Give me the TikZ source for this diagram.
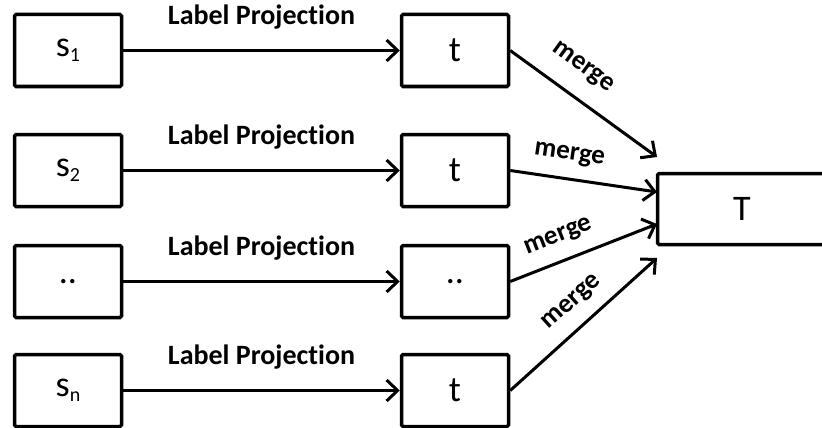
\documentclass[tikz,border=0pt]{standalone}
\usepackage{fontspec}
\setmainfont{Carlito}[Ligatures={NoCommon}]
\usetikzlibrary{arrows.meta}

% subscript for the source labels
\newcommand{\subidx}[1]{\raisebox{-0.14em}{\fontsize{20}{20}\selectfont #1}}

\begin{document}
\begin{tikzpicture}[x=1pt,y=-1pt,
  box/.style={draw, line width=3.5pt, rounded corners=1.5pt,
    minimum width=107pt, minimum height=72pt, inner sep=0pt,
    font=\fontsize{36}{36}\selectfont},
  flow/.style={line width=3pt,
    -{Straight Barb[length=11pt,width=21pt]}},
  projlabel/.style={midway, anchor=base, yshift=26pt, inner sep=0pt,
    font=\fontsize{28}{28}\selectfont\bfseries},
  mergelabel/.style={sloped, above=#1, inner sep=0pt,
    font=\fontsize{27}{27}\selectfont\bfseries},
  mergelabel/.default=13pt]
\useasboundingbox (0,0) rectangle (822,428);
\clip (0,0) rectangle (822,428);

% source boxes
\node[box] (s1) at (68,50.5)  {s\subidx{1}};
\node[box] (s2) at (68,170.5) {s\subidx{2}};
\node[box] (s3) at (68,281.5) {..};
\node[box] (s4) at (68,390.5) {s\subidx{n}};

% projected boxes
\node[box] (t1) at (455,50.5)  {t};
\node[box] (t2) at (455,170.5) {t};
\node[box] (t3) at (455,281.5) {..};
\node[box] (t4) at (455,390.5) {t};

% merged result
\node[box, minimum width=169pt, minimum height=71pt] (T) at (742,209) {T};

% arrow ends beside T
\coordinate (e1) at (657,157);
\coordinate (e2) at (657,192);
\coordinate (e3) at (657,224);
\coordinate (e4) at (657,258);

% label projection arrows
\foreach \i in {1,...,4}
  \draw[flow] (s\i) -- node[projlabel] {Label Projection} (t\i);

% merge arrows
\draw[flow] (t1.east) -- node[mergelabel=18pt, pos=0.38] {merge} (e1);
\draw[flow] (t2.east) -- node[mergelabel, pos=0.38] {merge} (e2);
\draw[flow] (t3.east) -- node[mergelabel, pos=0.39] {merge} (e3);
\draw[flow] (t4.east) -- node[mergelabel, pos=0.53] {merge} (e4);
\end{tikzpicture}
\end{document}
